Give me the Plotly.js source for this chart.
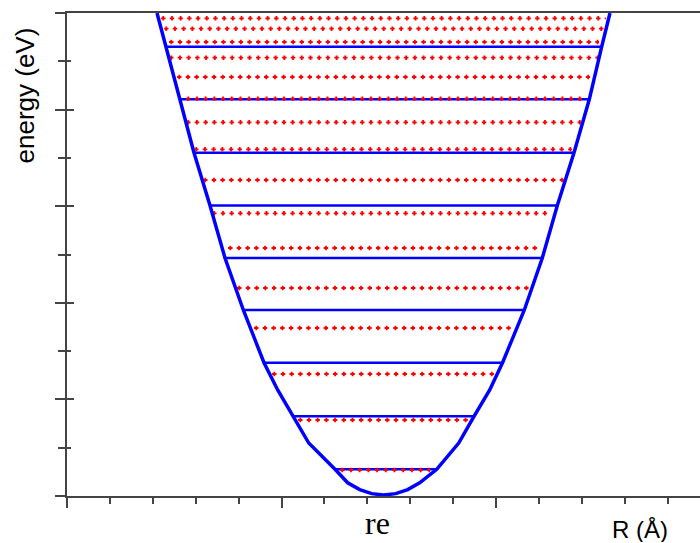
<!DOCTYPE html>
<html>
<head>
<meta charset="utf-8">
<script src="https://cdn.plot.ly/plotly-3.0.1.min.js"></script>
<style>html,body{margin:0;padding:0;background:#fff;}#chart{width:700px;height:543px;}</style>
</head>
<body>
<div id="chart"></div>
<script>
// Potential curve (R in tick units, energy in tick units)
const curveR = [2.098, 2.308, 2.618, 2.960, 3.333, 3.683, 4.110, 4.592, 4.911, 5.261, 5.635, 6.247, 6.543, 6.823, 7.103, 7.382, 7.662, 7.942, 8.221, 8.618, 9.131, 9.487, 9.853, 10.152, 10.660, 11.079, 11.429, 11.818, 12.175, 12.464, 12.657];
const curveE = [10.0, 9.302, 8.213, 7.108, 6.014, 4.928, 3.851, 2.760, 2.195, 1.650, 1.097, 0.553, 0.273, 0.133, 0.049, 0.021, 0.049, 0.133, 0.273, 0.553, 1.097, 1.650, 2.195, 2.760, 3.851, 4.928, 6.014, 7.108, 8.213, 9.302, 10.0];

// Vibrational levels (blue lines)
const levelE     = [0.553, 1.650, 2.760, 3.851, 4.928, 6.014, 7.108, 8.213, 9.302];
const levelLeft  = [6.247, 5.261, 4.592, 4.110, 3.683, 3.333, 2.960, 2.618, 2.308];
const levelRight = [8.618, 9.487, 10.152, 10.660, 11.079, 11.429, 11.818, 12.175, 12.464];

// Red dotted rows
const rowE     = [0.538, 1.573, 2.526, 3.478, 4.306, 5.135, 5.853, 6.542, 7.178, 7.737, 8.226, 8.675, 9.075, 9.400, 9.675, 9.890];
const rowLeft  = [6.364, 5.385, 4.779, 4.359, 3.963, 3.753, 3.380, 3.170, 2.960, 2.774, 2.774, 2.564, 2.378, 2.378, 2.261, 2.191];
const rowRight = [8.462, 9.371, 9.953, 10.396, 10.793, 11.002, 11.212, 11.585, 11.772, 11.981, 12.098, 12.191, 12.378, 12.401, 12.564, 12.564];

const xRange = [0, 14.755];
const yRange = [0, 10];

function segs(e, l, r) {
  const x = [], y = [];
  for (let i = 0; i < e.length; i++) {
    x.push(l[i], r[i], null);
    y.push(e[i], e[i], null);
  }
  return {x, y};
}

const lv = segs(levelE, levelLeft, levelRight);
const rw = segs(rowE, rowLeft, rowRight);

const traces = [
  {x: lv.x, y: lv.y, mode: 'lines', line: {color: '#0000ff', width: 2.6}, hoverinfo: 'skip', connectgaps: false},
  {x: rw.x, y: rw.y, mode: 'lines', line: {color: '#ff0000', width: 1.8, dash: '4.5px,4.2px'}, hoverinfo: 'skip', connectgaps: false},
  {x: rw.x, y: rw.y, mode: 'lines', line: {color: '#ff0000', width: 4.6, dash: '0px,1.35px,1.8px,5.55px'}, hoverinfo: 'skip', connectgaps: false},
  {x: curveR, y: curveE, mode: 'lines', line: {color: '#0000ff', width: 3.5, shape: 'linear'}, hoverinfo: 'skip'},
  {x: [], y: [], yaxis: 'y2', mode: 'lines', hoverinfo: 'skip'}
];

const axCol = '#444444';
const layout = {
  width: 700, height: 543,
  margin: {l: 67, r: 0, t: 13, b: 47},
  paper_bgcolor: '#ffffff', plot_bgcolor: '#ffffff',
  showlegend: false,
  xaxis: {
    range: xRange, showline: true, mirror: true, linecolor: axCol, linewidth: 2,
    ticks: 'outside', tick0: 0, dtick: 5, ticklen: 10, tickwidth: 2, tickcolor: axCol,
    minor: {dtick: 1, ticks: 'outside', ticklen: 6, tickwidth: 2, tickcolor: axCol, showgrid: false},
    showticklabels: false, showgrid: false, zeroline: false, fixedrange: true
  },
  yaxis: {
    range: yRange, showline: true, linecolor: axCol, linewidth: 2,
    ticks: 'outside', tick0: 0, dtick: 2, ticklen: 10, tickwidth: 2, tickcolor: axCol,
    minor: {dtick: 1, ticks: 'outside', ticklen: 7, tickwidth: 2, tickcolor: axCol, showgrid: false},
    showticklabels: false, showgrid: false, zeroline: false, fixedrange: true
  },
  yaxis2: {
    overlaying: 'y', anchor: 'x', side: 'left', range: yRange, showline: false,
    ticks: 'inside', tick0: 0, dtick: 2, ticklen: 7, tickwidth: 2, tickcolor: axCol,
    minor: {dtick: 1, ticks: 'inside', ticklen: 4, tickwidth: 2, tickcolor: axCol, showgrid: false},
    showticklabels: false, showgrid: false, zeroline: false, fixedrange: true
  },
  annotations: [
    {text: 'energy (eV)', xref: 'paper', yref: 'paper', x: -0.0665, y: 0.829, textangle: -90,
     xanchor: 'center', yanchor: 'middle', showarrow: false,
     font: {family: 'Liberation Sans, Arial, sans-serif', size: 26, color: '#000'}},
    {text: 'R (Å)', xref: 'paper', yref: 'paper', x: 0.905, y: -0.0683, height: 26,
     xanchor: 'center', yanchor: 'middle', showarrow: false,
     font: {family: 'Liberation Sans, Arial, sans-serif', size: 24, color: '#000'}},
    {text: 're', xref: 'paper', yref: 'paper', x: 0.4905, y: -0.056,
     xanchor: 'center', yanchor: 'middle', showarrow: false,
     font: {family: 'Liberation Serif, Times New Roman, serif', size: 32, color: '#000'}}
  ]
};

Plotly.newPlot('chart', traces, layout, {staticPlot: true, displayModeBar: false});
</script>
</body>
</html>
